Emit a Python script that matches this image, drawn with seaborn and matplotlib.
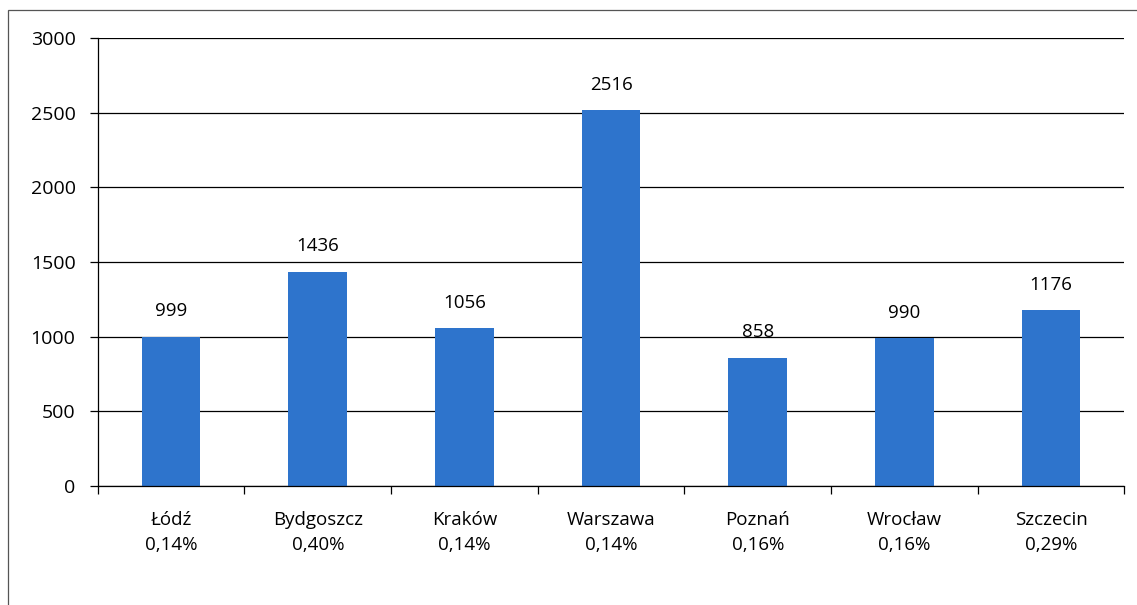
import seaborn as sns
import matplotlib.pyplot as plt
import matplotlib.patches as mpatches
import numpy as np
import pandas as pd

# dane z wykresu
cities = ["Łódź", "Bydgoszcz", "Kraków", "Warszawa", "Poznań", "Wrocław", "Szczecin"]
values = [999, 1436, 1056, 2516, 858, 990, 1176]
shares = ["0,14%", "0,40%", "0,14%", "0,14%", "0,16%", "0,16%", "0,29%"]

df = pd.DataFrame({"miasto": cities, "wartosc": values})

sns.set_style("white")
plt.rcParams["font.family"] = ["Open Sans", "DejaVu Sans"]
plt.rcParams["text.color"] = "black"
plt.rcParams["xtick.color"] = "black"
plt.rcParams["ytick.color"] = "black"

fs = 13.5

fig = plt.figure(figsize=(11.37, 6.05), dpi=100)
ax = fig.add_axes([0.086, 0.197, 0.903, 0.74])

sns.barplot(data=df, x="miasto", y="wartosc", color="#2E74CC", width=0.4,
            saturation=1, linewidth=0, ax=ax)

for i, v in enumerate(values):
    ax.text(i, v + 110, str(v), ha="center", va="bottom", fontsize=fs)

ax.set_ylim(0, 3000)
ax.set_xlim(-0.5, len(cities) - 0.5)
ax.set_yticks(range(0, 3001, 500))
ax.yaxis.grid(True, color="black", linewidth=0.9)
ax.set_axisbelow(True)
ax.set_xticks(range(len(cities)))
ax.set_xticklabels([f"{c}\n{s}" for c, s in zip(cities, shares)], fontsize=fs,
                   linespacing=1.5)
ax.set_xticks(np.arange(-0.5, len(cities), 1), minor=True)
ax.tick_params(axis="x", which="both", bottom=True)
ax.tick_params(axis="x", which="major", length=0, pad=18)
ax.tick_params(axis="x", which="minor", length=6, direction="out", width=0.9)
ax.tick_params(axis="y", left=True, length=6, direction="out", width=0.9,
               labelsize=14, pad=10)
ax.set_xlabel("")
ax.set_ylabel("")

for side in ["top", "right"]:
    ax.spines[side].set_visible(False)
for side in ["left", "bottom"]:
    ax.spines[side].set_color("black")
    ax.spines[side].set_linewidth(0.9)

# ramka wykresu
frame = mpatches.Rectangle((0.007, -0.01), 1.1, 0.993, transform=fig.transFigure,
                           fill=False, edgecolor="#555555", linewidth=0.9)
fig.patches.append(frame)

fig.savefig("out.png", dpi=100)
